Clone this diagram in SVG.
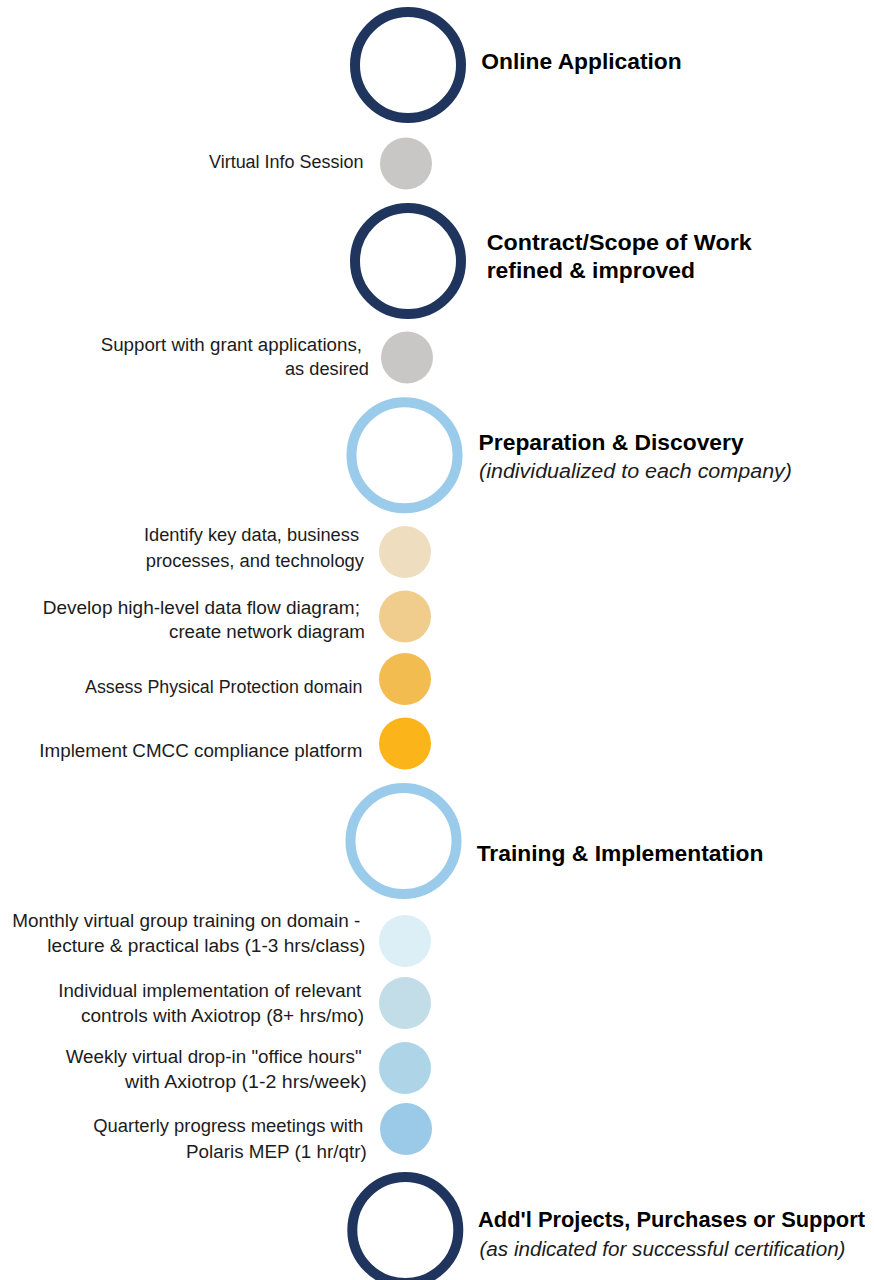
<svg xmlns="http://www.w3.org/2000/svg" width="874" height="1280" viewBox="0 0 874 1280">
  <style>
    .big { fill: none; stroke-width: 10; }
    .navy { stroke: #1F355E; }
    .sky { stroke: #9BCBEA; }
    .lbl { font-family: "Liberation Sans", Arial, sans-serif; font-size: 18px; fill: #1C1C1C; }
    .head { font-family: "Liberation Sans", Arial, sans-serif; font-size: 22.5px; font-weight: bold; fill: #000; }
    .sub { font-family: "Liberation Sans", Arial, sans-serif; font-size: 20px; font-style: italic; fill: #1C1C1C; }
  </style>
  <rect x="0" y="0" width="874" height="1280" fill="#FFFFFF"/>
  <g id="connectors"></g>

  <g id="online-application">
    <circle class="big navy" cx="408" cy="65" r="53"/>
    <text class="head" x="481.3" y="69" textLength="200.4" lengthAdjust="spacingAndGlyphs">Online Application</text>
  </g>
  <g id="virtual-info-session">
    <circle cx="406" cy="163.5" r="26" fill="#C8C7C6"/>
    <text class="lbl" x="209" y="167.5" textLength="154.5" lengthAdjust="spacingAndGlyphs">Virtual Info Session</text>
  </g>
  <g id="contract-scope">
    <circle class="big navy" cx="408" cy="261" r="53"/>
    <text class="head" x="486.7" y="250" textLength="265" lengthAdjust="spacingAndGlyphs">Contract/Scope of Work</text>
    <text class="head" x="486.7" y="277.7" textLength="208.3" lengthAdjust="spacingAndGlyphs">refined &amp; improved</text>
  </g>
  <g id="grant-support">
    <circle cx="407" cy="357.5" r="26" fill="#C8C7C6"/>
    <text class="lbl" x="100.7" y="350.7" textLength="261.3" lengthAdjust="spacingAndGlyphs">Support with grant applications,</text>
    <text class="lbl" x="285" y="375" textLength="84" lengthAdjust="spacingAndGlyphs">as desired</text>
  </g>
  <g id="preparation-discovery">
    <circle class="big sky" cx="404.5" cy="455.3" r="53"/>
    <text class="head" x="478.6" y="450" textLength="265" lengthAdjust="spacingAndGlyphs">Preparation &amp; Discovery</text>
    <text class="sub" x="479" y="478" textLength="313" lengthAdjust="spacingAndGlyphs">(individualized to each company)</text>
  </g>
  <g id="identify-key-data">
    <circle cx="405" cy="552" r="26" fill="#EEDDBE"/>
    <text class="lbl" x="144" y="540.7" textLength="215" lengthAdjust="spacingAndGlyphs">Identify key data, business</text>
    <text class="lbl" x="145.7" y="566.7" textLength="218.3" lengthAdjust="spacingAndGlyphs">processes, and technology</text>
  </g>
  <g id="data-flow-diagram">
    <circle cx="405" cy="616.5" r="26" fill="#F1CD8D"/>
    <text class="lbl" x="42.7" y="614" textLength="317.3" lengthAdjust="spacingAndGlyphs">Develop high-level data flow diagram;</text>
    <text class="lbl" x="169" y="638.3" textLength="196" lengthAdjust="spacingAndGlyphs">create network diagram</text>
  </g>
  <g id="physical-protection">
    <circle cx="405" cy="679" r="26" fill="#F2BC51"/>
    <text class="lbl" x="85" y="692.7" textLength="277.3" lengthAdjust="spacingAndGlyphs">Assess Physical Protection domain</text>
  </g>
  <g id="cmcc-platform">
    <circle cx="405" cy="743.5" r="26" fill="#FBB51B"/>
    <text class="lbl" x="39.3" y="756.7" textLength="323" lengthAdjust="spacingAndGlyphs">Implement CMCC compliance platform</text>
  </g>
  <g id="training-implementation">
    <circle class="big sky" cx="403.5" cy="841" r="53"/>
    <text class="head" x="476.7" y="861" textLength="286.7" lengthAdjust="spacingAndGlyphs">Training &amp; Implementation</text>
  </g>
  <g id="monthly-training">
    <circle cx="405" cy="941" r="26" fill="#DCEEF6"/>
    <text class="lbl" x="12.3" y="927.3" textLength="348" lengthAdjust="spacingAndGlyphs">Monthly virtual group training on domain -</text>
    <text class="lbl" x="47.3" y="951.7" textLength="318" lengthAdjust="spacingAndGlyphs">lecture &amp; practical labs (1-3 hrs/class)</text>
  </g>
  <g id="individual-implementation">
    <circle cx="405" cy="1003" r="26" fill="#C2DDE8"/>
    <text class="lbl" x="58.3" y="997.3" textLength="303" lengthAdjust="spacingAndGlyphs">Individual implementation of relevant</text>
    <text class="lbl" x="81" y="1022.3" textLength="283" lengthAdjust="spacingAndGlyphs">controls with Axiotrop (8+ hrs/mo)</text>
  </g>
  <g id="office-hours">
    <circle cx="405" cy="1068" r="26" fill="#AED4E8"/>
    <text class="lbl" x="65.7" y="1063.3" textLength="296" lengthAdjust="spacingAndGlyphs">Weekly virtual drop-in "office hours"</text>
    <text class="lbl" x="125" y="1088.3" textLength="241.7" lengthAdjust="spacingAndGlyphs">with Axiotrop (1-2 hrs/week)</text>
  </g>
  <g id="quarterly-meetings">
    <circle cx="406" cy="1129" r="26" fill="#9ACAE8"/>
    <text class="lbl" x="93.3" y="1132.3" textLength="270" lengthAdjust="spacingAndGlyphs">Quarterly progress meetings with</text>
    <text class="lbl" x="186" y="1157.7" textLength="180.7" lengthAdjust="spacingAndGlyphs">Polaris MEP (1 hr/qtr)</text>
  </g>
  <g id="additional-projects">
    <circle class="big navy" cx="405.3" cy="1230" r="53"/>
    <text class="head" x="478" y="1227" textLength="387" lengthAdjust="spacingAndGlyphs">Add'l Projects, Purchases or Support</text>
    <text class="sub" x="479.5" y="1255.5" textLength="366" lengthAdjust="spacingAndGlyphs">(as indicated for successful certification)</text>
  </g>
</svg>
